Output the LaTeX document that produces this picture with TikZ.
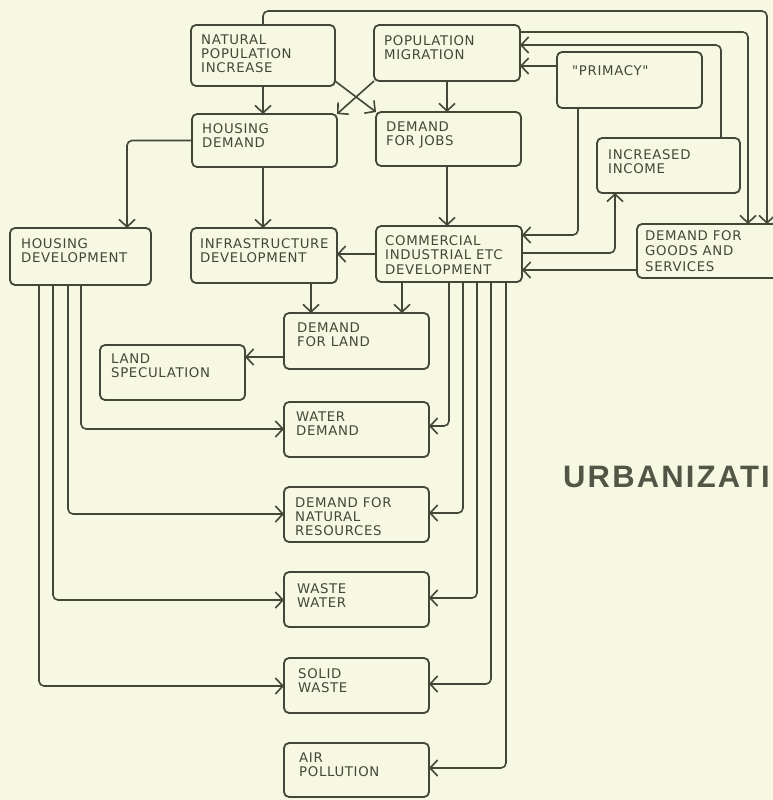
\documentclass[tikz,border=0pt]{standalone}
\usepackage{fontspec}
\usetikzlibrary{arrows.meta}
\newfontfamily\boxfont{DejaVu Sans}[LetterSpace=5]
\newfontfamily\titlefont{Liberation Sans}[LetterSpace=7]
\definecolor{paper}{RGB}{247,248,225}
\definecolor{ink}{RGB}{68,70,55}

\begin{document}
\begin{tikzpicture}[x=1pt,y=-1pt,
  box/.style={draw=ink, line width=1.8pt, rounded corners=5pt, inner sep=0pt, outer sep=0pt, anchor=north west},
  lbl/.style={inner sep=0pt, anchor=north west, align=left, text=ink,
              font=\boxfont\fontsize{13.3}{14}\selectfont},
  link/.style={draw=ink, line width=1.6pt, rounded corners=5pt},
  arr/.style={link, -{Straight Barb[length=7.5pt,width=16pt]}}]

\useasboundingbox (0,0) rectangle (773,800);
\fill[paper] (0,0) rectangle (773,800);

% ---- boxes ----
\node[box, minimum width=144pt, minimum height=61pt] (npi) at (191,25) {};
\node[box, minimum width=146pt, minimum height=56pt] (pm)  at (374,25) {};
\node[box, minimum width=145pt, minimum height=56pt] (pri) at (557,52) {};
\node[box, minimum width=145pt, minimum height=53pt] (hd)  at (192,114) {};
\node[box, minimum width=145pt, minimum height=54pt] (dfj) at (376,112) {};
\node[box, minimum width=143pt, minimum height=55pt] (inc) at (597,138) {};
\node[box, minimum width=141pt, minimum height=57pt] (hdev) at (10,228) {};
\node[box, minimum width=146pt, minimum height=55pt] (inf) at (191,228) {};
\node[box, minimum width=146pt, minimum height=56pt] (com) at (376,226) {};
\node[box, minimum width=163pt, minimum height=54pt] (gds) at (637,224) {};
\node[box, minimum width=145pt, minimum height=56pt] (dfl) at (284,313) {};
\node[box, minimum width=145pt, minimum height=55pt] (ls)  at (100,345) {};
\node[box, minimum width=145pt, minimum height=55pt] (wd)  at (284,402) {};
\node[box, minimum width=145pt, minimum height=55pt] (nr)  at (284,487) {};
\node[box, minimum width=145pt, minimum height=55pt] (ww)  at (284,572) {};
\node[box, minimum width=145pt, minimum height=55pt] (sw)  at (284,658) {};
\node[box, minimum width=145pt, minimum height=54pt] (ap)  at (284,743) {};

% ---- labels ----
\node[lbl] (npi-t) at ([xshift=10pt,yshift=-10pt]npi.north west) {NATURAL\\POPULATION\\INCREASE};
\node[lbl] (pm-t)  at ([xshift=10pt,yshift=-10pt]pm.north west) {POPULATION\\MIGRATION};
\node[lbl] (pri-t) at ([xshift=15pt,yshift=-13pt]pri.north west) {"PRIMACY"};
\node[lbl] (hd-t)  at ([xshift=10pt,yshift=-9pt]hd.north west) {HOUSING\\DEMAND};
\node[lbl] (dfj-t) at ([xshift=10pt,yshift=-10pt]dfj.north west) {DEMAND\\FOR JOBS};
\node[lbl] (inc-t) at ([xshift=11pt,yshift=-11pt]inc.north west) {INCREASED\\INCOME};
\node[lbl] (hdev-t) at ([xshift=11pt,yshift=-10pt]hdev.north west) {HOUSING\\DEVELOPMENT};
\node[lbl] (inf-t) at ([xshift=9pt,yshift=-10pt]inf.north west) {INFRASTRUCTURE\\DEVELOPMENT};
\node[lbl, font=\boxfont\fontsize{13.3}{14.5}\selectfont] (com-t) at ([xshift=9pt,yshift=-9pt]com.north west) {COMMERCIAL\\INDUSTRIAL ETC\\DEVELOPMENT};
\node[lbl, font=\boxfont\fontsize{13.3}{15.5}\selectfont] (gds-t) at ([xshift=8pt,yshift=-6pt]gds.north west) {DEMAND FOR\\GOODS AND\\SERVICES};
\node[lbl] (dfl-t) at ([xshift=13pt,yshift=-10pt]dfl.north west) {DEMAND\\FOR LAND};
\node[lbl] (ls-t)  at ([xshift=11pt,yshift=-9pt]ls.north west) {LAND\\SPECULATION};
\node[lbl] (wd-t)  at ([xshift=12pt,yshift=-10pt]wd.north west) {WATER\\DEMAND};
\node[lbl] (nr-t)  at ([xshift=11pt,yshift=-10pt]nr.north west) {DEMAND FOR\\NATURAL\\RESOURCES};
\node[lbl] (ww-t)  at ([xshift=13pt,yshift=-11pt]ww.north west) {WASTE\\WATER};
\node[lbl] (sw-t)  at ([xshift=14pt,yshift=-10pt]sw.north west) {SOLID\\WASTE};
\node[lbl] (ap-t)  at ([xshift=15pt,yshift=-10pt]ap.north west) {AIR\\POLLUTION};

\node[inner sep=0pt, anchor=base west, text=ink!92,
      font=\titlefont\bfseries\fontsize{31}{34}\selectfont] (title) at (563,487) {URBANIZATI};

% ---- routing points ----
\coordinate (a1) at (263,11);
\coordinate (ka) at (767,11);
\coordinate (kb) at (748,32);
\coordinate (kc) at (721,45);
\coordinate (kd) at (540,66);
\coordinate (cj) at (447,100);
\coordinate (ch) at (127,140);
\coordinate (k1) at (578,235);
\coordinate (k2) at (615,253);
\coordinate (k3) at (600,270);
\coordinate (ci) at (311,300);
\coordinate (cc) at (402,300);
\coordinate (kl) at (265,357);
\coordinate (p1) at (81,429);
\coordinate (p2) at (68,514);
\coordinate (p3) at (53,600);
\coordinate (p4) at (39,686);
\coordinate (q1) at (449,426);
\coordinate (q2) at (463,513);
\coordinate (q3) at (477,598);
\coordinate (q4) at (491,684);
\coordinate (q5) at (506,768);

% ---- connectors: upper part ----
\draw[arr] (npi.south -| a1) -- (hd.north -| a1);
\draw[arr] (pm.south -| cj) -- (dfj.north -| cj);
\draw[arr] ([yshift=5pt]npi.south east) -- (dfj.north west);
\draw[arr] (pm.south west) -- (hd.north east);
\draw[arr] (hd.south -| a1) -- (inf.north -| a1);
\draw[arr] (hd.west) -| (ch |- hdev.north);
\draw[arr] (dfj.south -| cj) -- (com.north -| cj);
\draw[arr] (com.west) -- (com.west -| inf.east);

% ---- feedback loops on the right ----
\draw[arr] (npi.north -| a1) -- (a1) -- (ka) -- (ka |- gds.north);
\draw[arr] (pm.east |- kb) -- (kb) -- (kb |- gds.north);
\draw[arr] (inc.north -| kc) -- (kc) -- (kc -| pm.east);
\draw[arr] (pri.west |- kd) -- (pm.east |- kd);
\draw[arr] (pri.south -| k1) -- (k1) -- (k1 -| com.east);
\draw[arr] (com.east |- k2) -- (k2) -- (inc.south -| k2);
\draw[arr] (gds.west |- k3) -- (com.east |- k3);

% ---- land ----
\draw[arr] (inf.south -| ci) -- (dfl.north -| ci);
\draw[arr] (com.south -| cc) -- (dfl.north -| cc);
\draw[arr] (dfl.west |- kl) -- (ls.east |- kl);

% ---- housing development to demands and wastes ----
\draw[arr] (hdev.south -| p1) -- (p1) -- (p1 -| wd.west);
\draw[arr] (hdev.south -| p2) -- (p2) -- (p2 -| nr.west);
\draw[arr] (hdev.south -| p3) -- (p3) -- (p3 -| ww.west);
\draw[arr] (hdev.south -| p4) -- (p4) -- (p4 -| sw.west);

% ---- commercial development to demands and wastes ----
\draw[arr] (com.south -| q1) -- (q1) -- (q1 -| wd.east);
\draw[arr] (com.south -| q2) -- (q2) -- (q2 -| nr.east);
\draw[arr] (com.south -| q3) -- (q3) -- (q3 -| ww.east);
\draw[arr] (com.south -| q4) -- (q4) -- (q4 -| sw.east);
\draw[arr] (com.south -| q5) -- (q5) -- (q5 -| ap.east);

\end{tikzpicture}
\end{document}
